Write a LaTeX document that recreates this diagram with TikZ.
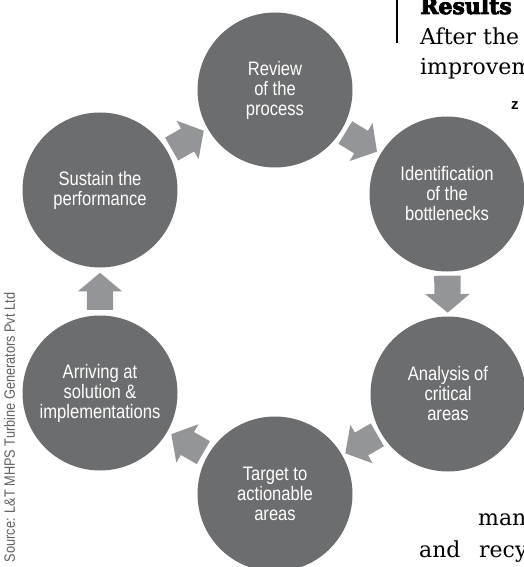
\documentclass[tikz,border=0pt]{standalone}
\usepackage{fontspec}
\setmainfont{DejaVu Serif}
\newfontfamily\cyclefont{Liberation Sans}[FakeStretch=0.85]
\newfontfamily\sourcefont{Liberation Sans}[FakeStretch=0.85]
\newfontfamily\headfont{DejaVu Serif}[FakeBold=4]
\newfontfamily\markfont{Liberation Sans}
\usetikzlibrary{shapes.arrows,calc}

\definecolor{circlegray}{RGB}{108,109,111}
\definecolor{arrowgray}{RGB}{147,149,152}
\definecolor{sourcegray}{RGB}{95,96,98}

% block arrow half way between two stages, pointing from #1 to #2
\newcommand{\cyclearrow}[2]{%
  \path let \p1=($(#2)-(#1)$), \n1={atan2(\y1,\x1)} in
    node[flowarrow, rotate=\n1, anchor=tail] (#1-#2)
      at ($(#1)!0.5!(#2)!-18.5pt!(#2)$) {};}

\begin{document}
\begin{tikzpicture}[x=1pt,y=-1pt,
  stage/.style={circle, fill=circlegray, text=white, minimum size=155pt,
    inner sep=0pt, align=center, font={\cyclefont\fontsize{19.5}{20}\selectfont}},
  flowarrow/.style={single arrow, fill=arrowgray, minimum height=37pt,
    minimum width=0pt, inner xsep=0pt, inner ysep=13pt,
    single arrow head extend=9pt, single arrow head indent=0pt,
    single arrow tip angle=100},
  column/.style={anchor=base west, inner sep=0pt, font={\fontsize{22}{29}\selectfont}}]
\useasboundingbox (0,0) rectangle (524,567);
\clip (0,0) rectangle (524,567);

% the six stages
\node[stage] (review) at (275,90) {Review\\of the\\process};
\node[stage] (ident) at (447,194) {Identification\\of the\\bottlenecks};
\node[stage] (analysis) at (448,394) {Analysis of\\critical\\areas};
\node[stage] (target) at (275,494) {Target to\\actionable\\areas};
\node[stage] (arriving) at (100,393) {Arriving at\\solution \&\\implementations};
\node[stage] (sustain) at (100,190) {Sustain the\\performance};

\cyclearrow{review}{ident}
\cyclearrow{ident}{analysis}
\cyclearrow{analysis}{target}
\cyclearrow{target}{arriving}
\cyclearrow{arriving}{sustain}
\cyclearrow{sustain}{review}

% source line
\node[rotate=90, text=sourcegray, font={\sourcefont\fontsize{15}{15}\selectfont}]
  (source) at (9.5,427.5) {Source: L\&T MHPS Turbine Generators Pvt Ltd};

% article column on the right
\draw[line width=2pt] (397,0) -- (397,43);
\node[column, font={\headfont\bfseries\fontsize{22}{29}\selectfont}] (head) at (420,14) {Results};
\node[column] (line1) at (420,45) {After the};
\node[column] (line2) at (420,75) {improvem};
\node[column, font={\markfont\bfseries\fontsize{15}{15}\selectfont}] (mark) at (511,110) {z};
\node[column] (line3) at (478,525) {man};
\node[column] (line4a) at (419,557) {and};
\node[column] (line4b) at (479,557) {recy};
\end{tikzpicture}
\end{document}
